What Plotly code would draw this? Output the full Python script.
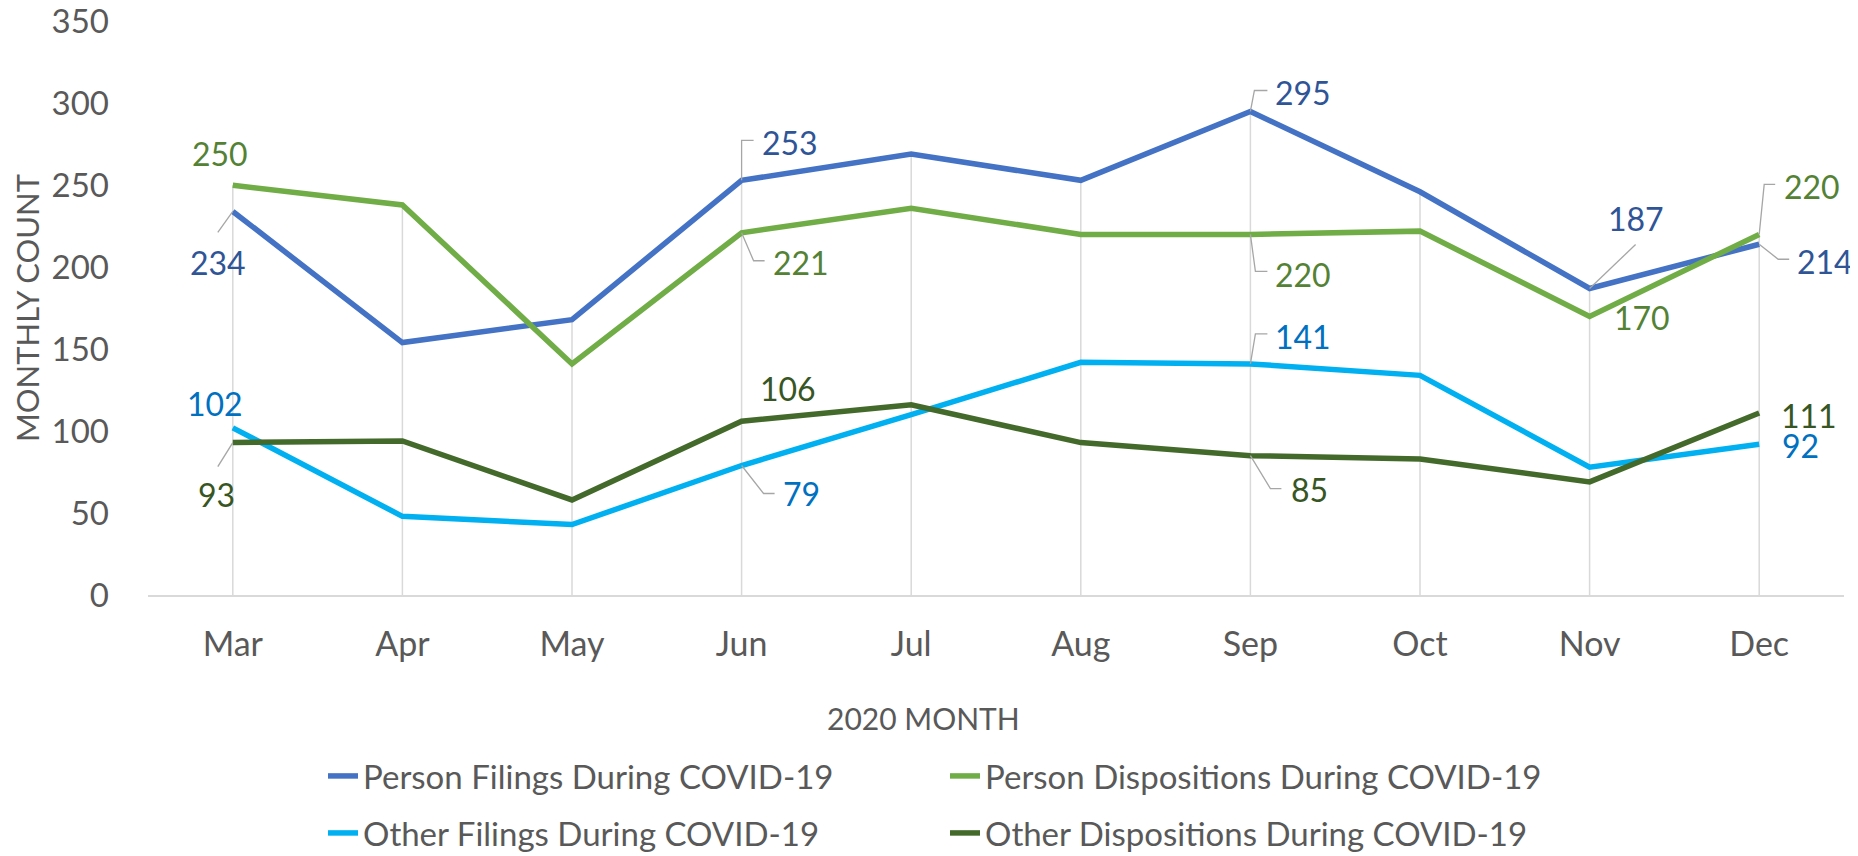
import plotly.graph_objects as go

months = ["Mar", "Apr", "May", "Jun", "Jul", "Aug", "Sep", "Oct", "Nov", "Dec"]
person_filings = [234, 154, 168, 253, 269, 253, 295, 246, 187, 214]
person_dispositions = [250, 238, 141, 221, 236, 220, 220, 222, 170, 220]
other_filings = [102, 48, 43, 79, 110, 142, 141, 134, 78, 92]
other_dispositions = [93, 94, 58, 106, 116, 93, 85, 83, 69, 111]

series_names = [
    "Person Filings During COVID-19",
    "Person Dispositions During COVID-19",
    "Other Filings During COVID-19",
    "Other Dispositions During COVID-19",
]
y_ticks = [0, 50, 100, 150, 200, 250, 300, 350]

# ---- styles ----
line_colors = ["#4472C4", "#70AD47", "#00B0F0", "#436A2B"]
label_colors = ["#2F5597", "#548235", "#0070C0", "#375623"]
# label placement in screen pixels relative to the point:
# (month index, label dx, label dy, leader polyline points)
label_specs = [
    [(0, -15, 51, [(-15, 21)]), (3, 48, -38, [(0, -40), (12, -40)]),
     (6, 53, -19, [(4, -21), (17, -21)]), (8, 46, -70, [(46, -44)]),
     (9, 66, 17, [(19, 15), (30, 15)])],
    [(0, -13, -32, []), (3, 59, 30, [(12, 28), (23, 28)]),
     (6, 53, 40, [(5, 37), (17, 37)]), (8, 52, 1, []),
     (9, 53, -48, [(5, -50), (16, -50)])],
    [(0, -18, -24, []), (3, 60, 28, [(22, 28), (33, 28)]),
     (6, 53, -27, [(5, -30), (17, -30)]), (9, 41, 1, [])],
    [(0, -16, 52, [(-15, 24)]), (3, 46, -33, []),
     (6, 59, 34, [(20, 33), (31, 33)]), (9, 50, 2, [])],
]

FONT = "Lato"
GRAY = "#595959"
all_series = [person_filings, person_dispositions, other_filings, other_dispositions]

fig = go.Figure()

# drop lines from the highest series value down to the axis
drop_x, drop_y = [], []
for i, m in enumerate(months):
    top = max(s[i] for s in all_series)
    drop_x += [m, m, m]
    drop_y += [0, top, None]
fig.add_trace(go.Scatter(
    x=drop_x, y=drop_y, mode="lines", showlegend=False, hoverinfo="skip",
    line=dict(color="#D9D9D9", width=1.5), connectgaps=False,
))

legend_ids = ["legend", "legend", "legend2", "legend2"]
for name, vals, col, lg in zip(series_names, all_series, line_colors, legend_ids):
    fig.add_trace(go.Scatter(
        x=months, y=vals, name=name, mode="lines",
        line=dict(color=col, width=5.5), legend=lg,
    ))

annotations = []
shapes = []
for vals, lcol, specs in zip(all_series, label_colors, label_specs):
    for idx, dx, dy, leader in specs:
        annotations.append(dict(
            x=months[idx], y=vals[idx], xref="x", yref="y",
            text=str(vals[idx]), showarrow=False, xshift=dx, yshift=-dy,
            xanchor="center", yanchor="middle",
            font=dict(family=FONT, size=32, color=lcol),
        ))
        if leader:
            path = "M0,0" + "".join(f"L{px},{-py}" for px, py in leader)
            shapes.append(dict(
                type="path", path=path, xref="x", yref="y",
                xsizemode="pixel", ysizemode="pixel",
                xanchor=months[idx], yanchor=vals[idx],
                line=dict(color="#A6A6A6", width=1.3), layer="above",
            ))

annotations.append(dict(
    text="2020 MONTH", xref="paper", yref="paper", x=0.4575, y=-0.2143,
    xanchor="center", yanchor="middle", showarrow=False,
    font=dict(family=FONT, size=30, color=GRAY),
))

legend_common = dict(
    orientation="h", xanchor="left", yanchor="middle",
    entrywidth=577, entrywidthmode="pixels",
    font=dict(family=FONT, size=33, color=GRAY),
    itemwidth=30, bgcolor="rgba(0,0,0,0)",
)

# the page body adds an 8px offset; figure size/margins compensate for it
fig.update_layout(
    width=1850, height=848,
    margin=dict(l=140, r=14, t=13, b=261, autoexpand=False),
    paper_bgcolor="white", plot_bgcolor="white",
    font=dict(family=FONT, color=GRAY),
    annotations=annotations, shapes=shapes,
    showlegend=True,
    legend=dict(x=0.1032, y=-0.3153, **legend_common),
    legend2=dict(x=0.1032, y=-0.4146, **legend_common),
    xaxis=dict(
        type="category", range=[-0.5, 9.5], automargin=False,
        showgrid=False, showline=True, linecolor="#D9D9D9", linewidth=1.5,
        tickfont=dict(family=FONT, size=34, color=GRAY),
        ticks="", ticklabelstandoff=18, zeroline=False,
    ),
    yaxis=dict(
        range=[0, 350.2], tickvals=y_ticks, showgrid=False, zeroline=False,
        showline=False, automargin=False, ticklabeloverflow="allow",
        tickfont=dict(family=FONT, size=33, color=GRAY),
        ticks="", ticklabelstandoff=38,
        title=dict(text="MONTHLY COUNT", font=dict(family=FONT, size=31, color=GRAY), standoff=8),
    ),
)

fig.write_html("out.html")
